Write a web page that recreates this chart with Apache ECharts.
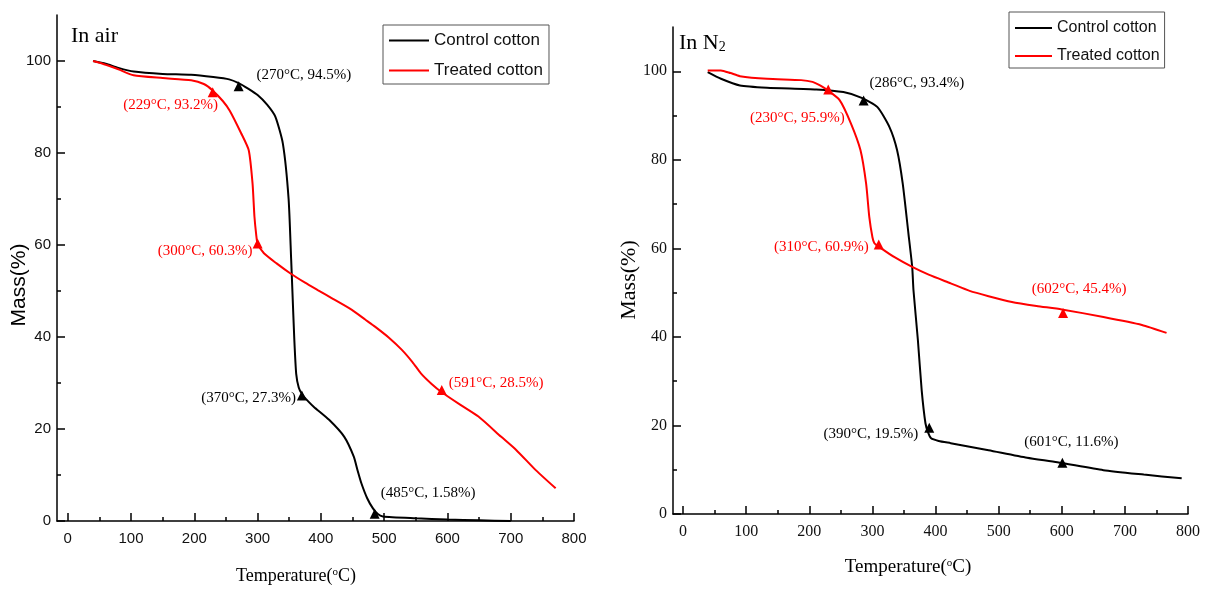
<!DOCTYPE html>
<html style="height: 100%">
<head>
<meta charset="utf-8">
<script src="https://cdn.jsdelivr.net/npm/echarts@6/dist/echarts.min.js"></script>
</head>
<body style="height: 100%; margin: 0; background: #fff">
<div id="chart" style="width: 1213px; height: 589px;"></div>
<script type="text/javascript">
// TGA curves, [temperature, mass %]
var airControl = [[40,100],[60,99.4],[80,98.5],[104,97.7],[150,97.2],[195,97.0],[230,96.5],[255,96.0],[270,95.2],[285,94.0],[300,92.6],[315,90.5],[328,87.9],[340,82],[349,70],[353,57],[355,50],[358,39.5],[361,32],[365,29],[370,27.6],[380,26],[389,24.8],[413,22],[437,18.3],[452,14],[458,11],[464,8.2],[473,5],[482,2.8],[490,1.5],[498,1.0],[550,0.6],[600,0.3],[650,0.15],[700,0]];
var airTreated = [[40,100],[60,99.2],[80,98.2],[104,96.9],[150,96.3],[195,95.8],[215,95],[229,93.6],[245,91.3],[256,89.2],[274,84.3],[286,80.6],[292,73.4],[295,66.2],[298,62],[300,60.3],[310,58.2],[330,56],[352,53.8],[375,51.8],[395,50.2],[419,48.3],[449,45.9],[470,43.8],[486,42.2],[508,39.8],[528,37.2],[545,34.5],[558,32.1],[575,29.8],[591,28],[620,25.3],[649,22.7],[685,18.3],[709,15.4],[740,11],[771,7.1]];
var n2Control = [[39,99.8],[60,98.3],[90,96.8],[133,96.3],[211,95.9],[254,95.3],[283,94],[308,91.9],[327,87.4],[339,82.2],[348,74.6],[357,63.4],[363,55.8],[365,50.6],[372,39.3],[378,28],[384,20.5],[388,18.5],[393,17.1],[405,16.5],[424,16],[484,14.4],[545,12.7],[593,11.7],[666,9.9],[730,8.9],[790,8.05]];
var n2Treated = [[39,100.2],[60,100.2],[75,99.6],[90,98.9],[133,98.3],[187,98],[205,97.6],[217,96.8],[227,95.9],[248,93.5],[266,88.2],[281,82.2],[290,74.6],[295,67.1],[300,62.5],[303,61.2],[314,60],[335,58],[363,55.8],[390,54],[424,52.1],[454,50.4],[484,49.2],[521,47.9],[560,47],[600,46.2],[666,44.5],[727,42.7],[766,40.9]];

// marked points
var airControlMarks = [[270,94.5],[370,27.3],[485,1.58]];
var airTreatedMarks = [[229,93.2],[300,60.3],[591,28.5]];
var n2ControlMarks = [[286,93.4],[390,19.5],[601,11.6]];
var n2TreatedMarks = [[230,95.9],[310,60.9],[602,45.4]];

var xMajor = [0,100,200,300,400,500,600,700,800];
var xMinor = [50,150,250,350,450,550,650,750];
var yMajor = [0,20,40,60,80,100];
var yMinor = [10,30,50,70,90];

var sans = "'Liberation Sans', Arial, sans-serif";
var serif = "'Liberation Serif', 'Times New Roman', serif";

function xAxes(g, min, fam, size) {
    return [{
        type: 'value', gridIndex: g, position: 'bottom', min: min, max: 800,
        splitLine: {show: false},
        axisLine: {onZero: false, lineStyle: {color: '#000', width: 1.5}},
        axisTick: {inside: true, length: 8, customValues: xMajor, lineStyle: {color: '#000', width: 1.5}},
        axisLabel: {customValues: xMajor, margin: 10, color: '#111', fontFamily: fam, fontSize: size}
    }, {
        type: 'value', gridIndex: g, position: 'bottom', min: min, max: 800,
        splitLine: {show: false}, axisLine: {show: false, onZero: false}, axisLabel: {show: false},
        axisTick: {inside: true, length: 4, customValues: xMinor, lineStyle: {color: '#000', width: 1.5}}
    }];
}
function yAxes(g, fam, size) {
    return [{
        type: 'value', gridIndex: g, position: 'left', min: 0, max: 110,
        splitLine: {show: false},
        axisLine: {show: true, onZero: false, lineStyle: {color: '#000', width: 1.5}},
        axisTick: {show: true, inside: true, length: 8, customValues: yMajor, lineStyle: {color: '#000', width: 1.5}},
        axisLabel: {customValues: yMajor, margin: 6, color: '#111', fontFamily: fam, fontSize: size}
    }, {
        type: 'value', gridIndex: g, position: 'left', min: 0, max: 110,
        splitLine: {show: false}, axisLine: {show: false, onZero: false}, axisLabel: {show: false},
        axisTick: {show: true, inside: true, length: 4, customValues: yMinor, lineStyle: {color: '#000', width: 1.5}}
    }];
}
function curve(name, data, color, xi, yi) {
    return {
        type: 'line', name: name, data: data, xAxisIndex: xi, yAxisIndex: yi,
        symbol: 'none', smooth: 0.2,
        lineStyle: {color: color, width: 2}, itemStyle: {color: color}
    };
}
// places: [position, dx, dy] of each label
function marks(name, data, color, xi, yi, places) {
    return {
        type: 'scatter', name: name, xAxisIndex: xi, yAxisIndex: yi, z: 5,
        symbol: 'triangle', symbolSize: 10, itemStyle: {color: color, opacity: 1},
        label: {
            show: true, color: color, fontFamily: serif, fontSize: 15,
            formatter: function (p) { return '(' + p.value[0] + '\u00b0C, ' + p.value[1] + '%)'; }
        },
        data: data.map(function (p, i) {
            return {value: p, label: {position: places[i][0], offset: [places[i][1], places[i][2]]}};
        })
    };
}

var myChart = echarts.init(document.getElementById('chart'));
var option = {
    animation: false,
    backgroundColor: '#fff',
    grid: [
        {left: 57, top: 15, width: 517, height: 506},
        {left: 673, top: 27, width: 515, height: 487}
    ],
    xAxis: xAxes(0, -17, sans, 15).concat(xAxes(1, -16, serif, 16)),
    yAxis: yAxes(0, sans, 15).concat(yAxes(1, serif, 16)),
    legend: [{
        orient: 'vertical', left: 383, top: 25, padding: [7, 6, 5, 6], itemGap: 13,
        icon: 'rect', itemWidth: 40, itemHeight: 2, borderColor: '#555', borderWidth: 1,
        textStyle: {fontFamily: sans, fontSize: 17, color: '#111'},
        data: ['Control cotton', 'Treated cotton']
    }, {
        orient: 'vertical', left: 1009, top: 12, padding: [8, 5, 4, 6], itemGap: 12,
        icon: 'rect', itemWidth: 37, itemHeight: 2, borderColor: '#555', borderWidth: 1,
        textStyle: {fontFamily: sans, fontSize: 16, color: '#111'},
        data: ['Control cotton', 'Treated cotton']
    }],
    graphic: [
        {type: 'text', left: 71, top: 25, style: {text: 'In air', fontFamily: serif, fontSize: 22, fill: '#000'}},
        {type: 'text', left: 679, top: 32, style: {
            text: '{a|In N}{b|2}', fill: '#000',
            rich: {a: {fontFamily: serif, fontSize: 22}, b: {fontFamily: serif, fontSize: 14, verticalAlign: 'bottom', padding: [8, 0, 0, 0]}}
        }},
        {type: 'text', x: 296, y: 576, style: {
            text: '{a|Temperature(}{s|o}{a|C)}', align: 'center', verticalAlign: 'middle', fill: '#000',
            rich: {a: {fontFamily: serif, fontSize: 18}, s: {fontFamily: serif, fontSize: 11, verticalAlign: 'top'}}
        }},
        {type: 'text', x: 908, y: 567, style: {
            text: '{a|Temperature(}{s|o}{a|C)}', align: 'center', verticalAlign: 'middle', fill: '#000',
            rich: {a: {fontFamily: serif, fontSize: 19}, s: {fontFamily: serif, fontSize: 11, verticalAlign: 'top'}}
        }},
        {type: 'text', x: 19, y: 285, rotation: Math.PI / 2, style: {
            text: 'Mass(%)', align: 'center', verticalAlign: 'middle', fill: '#000',
            fontFamily: sans, fontSize: 21
        }},
        {type: 'text', x: 629, y: 280, rotation: Math.PI / 2, style: {
            text: 'Mass(%)', align: 'center', verticalAlign: 'middle', fill: '#000',
            fontFamily: serif, fontSize: 22
        }}
    ],
    series: [
        curve('Control cotton', airControl, '#000', 0, 0),
        curve('Treated cotton', airTreated, '#ff0000', 0, 0),
        marks('air control marks', airControlMarks, '#000', 0, 0,
            [['right', 8, -11], ['left', 4, 3], ['right', -4, -21]]),
        marks('air treated marks', airTreatedMarks, '#ff0000', 0, 0,
            [['bottom', -42, -5], ['left', 5, 7], ['right', -3, -7]]),
        curve('Control cotton', n2Control, '#000', 2, 2),
        curve('Treated cotton', n2Treated, '#ff0000', 2, 2),
        marks('n2 control marks', n2ControlMarks, '#000', 2, 2,
            [['right', -4, -17], ['left', -1, 6], ['top', 9, -3]]),
        marks('n2 treated marks', n2TreatedMarks, '#ff0000', 2, 2,
            [['bottom', -31, 11], ['left', 0, 3], ['top', 16, -6]])
    ]
};
myChart.setOption(option);
</script>
</body>
</html>
